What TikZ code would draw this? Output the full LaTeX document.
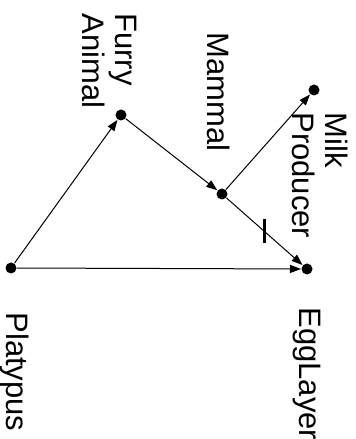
\documentclass[tikz,border=0pt]{standalone}
\usepackage{fontspec}
\setmainfont{Liberation Sans}
\usetikzlibrary{arrows.meta}
\tikzset{
    dot/.style={circle, fill, inner sep=0pt, minimum size=11pt},
    tag/.style={rotate=-90, anchor=west, inner sep=0pt, align=left,
        font=\fontsize{31}{33}\selectfont},
}
\begin{document}
\begin{tikzpicture}[x=1pt, y=1pt, >={Triangle[length=11pt, width=8pt]}, line width=1pt]
    \useasboundingbox (0,0) rectangle (356,439);

    % points of the graph
    \node[dot] (platypus) at (11,171) {};
    \node[dot] (furry) at (121,324) {};
    \node[dot] (mammal) at (222,245) {};
    \node[dot] (milk) at (314,349) {};
    \node[dot] (egg) at (307,170) {};

    % sideways names
    \node[tag] (platypus-tag) at (15,127) {Platypus};
    \node[tag] (furry-tag) at (110,426) {Furry\\Animal};
    \node[tag] (mammal-tag) at (218.5,407) {Mammal};
    \node[tag] (milk-tag) at (320,327) {Milk\\Producer};
    \node[tag] (egg-tag) at (306.5,132) {EggLayer};

    \draw[->] (platypus) -- (furry);
    \draw[->] (furry) -- (mammal);
    \draw[->] (mammal) -- (milk);
    \draw[->] (platypus) -- (egg);

    % the blocked link carries a bar across its middle
    \draw[->] (mammal) -- (egg) coordinate[midway] (cut);
    \draw[line width=3pt] ([yshift=12pt]cut) -- ([yshift=-12pt]cut);
\end{tikzpicture}
\end{document}
